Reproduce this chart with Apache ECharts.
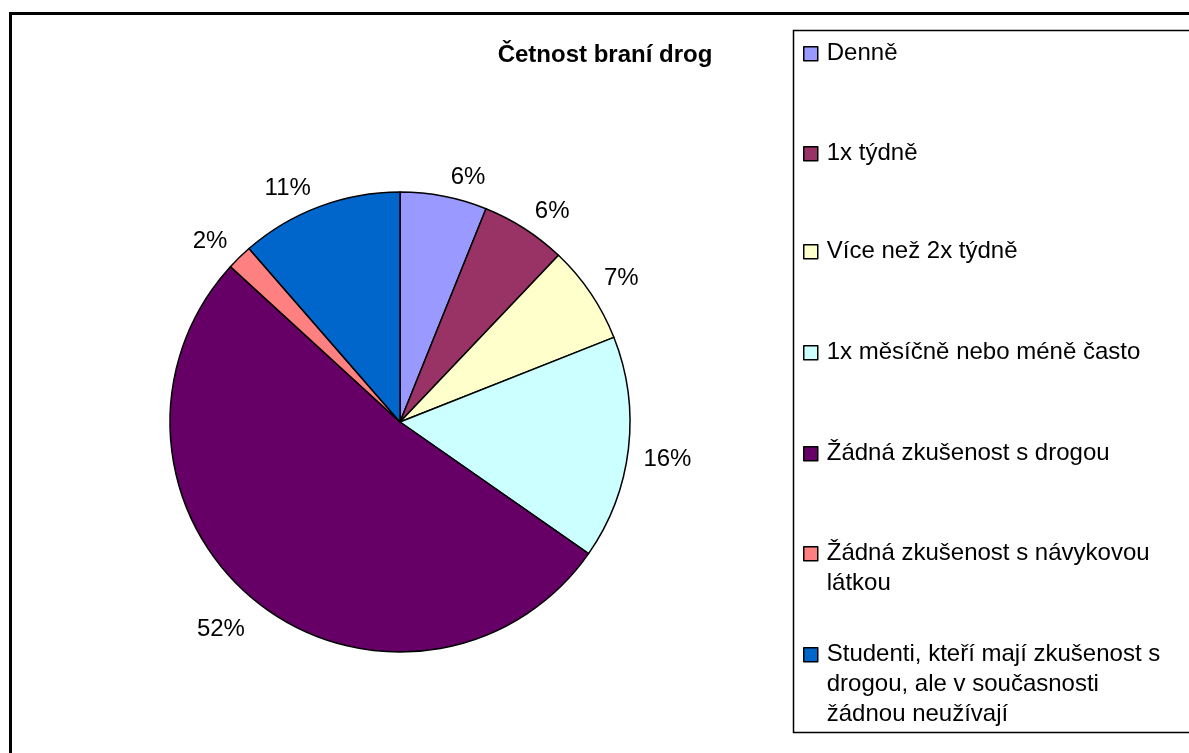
<!DOCTYPE html>
<html>
<head>
<meta charset="utf-8">
<script src="https://cdn.jsdelivr.net/npm/echarts@6/dist/echarts.min.js"></script>
<style>
html,body{margin:0;padding:0;background:#fff;}
#chart{width:1189px;height:753px;}
</style>
</head>
<body>
<div id="chart"></div>
<script>
// data
var categories = ['Denně', '1x týdně', 'Více než 2x týdně', '1x měsíčně nebo méně často',
  'Žádná zkušenost s drogou', 'Žádná zkušenost s návykovou látkou',
  'Studenti, kteří mají zkušenost s drogou, ale v současnosti žádnou neužívají'];
var legendText = ['Denně', '1x týdně', 'Více než 2x týdně', '1x měsíčně nebo méně často',
  'Žádná zkušenost s drogou', 'Žádná zkušenost s návykovou\nlátkou',
  'Studenti, kteří mají zkušenost s\ndrogou, ale v současnosti\nžádnou neužívají'];
var values = [6.1, 6.0, 6.9, 15.7, 52.1, 1.8, 11.4];
var colors = ['#9999FF', '#993366', '#FFFFCC', '#CCFFFF', '#660066', '#FF8080', '#0066CC'];

var font = "'Liberation Sans', Arial, sans-serif";
var lineH = 30;
var cx = 400, cy = 422;
// first-line centre of each legend entry
var markerY = [53, 153, 251, 352, 453, 553, 654];

// icon box as tall as the text block, square drawn on the first line
function iconFor(n) {
  var h = n * lineH, t = lineH / 2 - 7;
  return 'path://M0,0M14,' + h + 'M0,' + t + 'L14,' + t + 'L14,' + (t + 14) + 'L0,' + (t + 14) + 'Z';
}

var legends = categories.map(function (name, i) {
  var n = legendText[i].split('\n').length;
  return {
    data: [name],
    orient: 'vertical',
    left: 803,
    top: markerY[i] - lineH / 2,
    padding: 0,
    icon: iconFor(n),
    itemWidth: 14,
    itemHeight: n * lineH,
    selectedMode: false,
    itemStyle: {borderColor: '#000', borderWidth: 1.5},
    formatter: function () { return legendText[i]; },
    textStyle: {fontFamily: font, fontSize: 24, color: '#000', lineHeight: lineH, padding: [0, 0, 0, 4]}
  };
});

var chart = echarts.init(document.getElementById('chart'));
chart.setOption({
  backgroundColor: '#fff',
  animation: false,
  color: colors,
  title: {
    text: 'Četnost braní drog',
    left: 600,
    top: 38,
    textAlign: 'center',
    textStyle: {fontFamily: font, fontSize: 24, fontWeight: 'bold', color: '#000'}
  },
  legend: legends,
  graphic: [
    {type: 'rect', shape: {x: 10.5, y: 13.5, width: 1200, height: 800},
     style: {fill: 'none', stroke: '#000', lineWidth: 3}, silent: true, z: -1},
    {type: 'rect', shape: {x: 793.5, y: 30.5, width: 420, height: 702},
     style: {fill: 'none', stroke: '#000', lineWidth: 1.5}, silent: true, z: -1}
  ],
  series: [{
    type: 'pie',
    center: [cx, cy],
    radius: 230,
    startAngle: 90,
    clockwise: true,
    avoidLabelOverlap: false,
    itemStyle: {borderColor: '#000', borderWidth: 1.5},
    label: {
      show: true,
      position: 'outside',
      fontFamily: font,
      fontSize: 24,
      color: '#000',
      formatter: function (p) { return Math.round(p.percent) + '%'; }
    },
    labelLine: {show: false, length: 10, length2: 0},
    labelLayout: function (p) {
      var r = p.labelRect;
      var dx = r.x + r.width / 2 - cx, dy = r.y + r.height / 2 - cy;
      var ny = dy / Math.sqrt(dx * dx + dy * dy);
      return {dy: ny < 0 ? -9 : 8 + 17 * ny};
    },
    emphasis: {disabled: true},
    data: categories.map(function (c, i) { return {name: c, value: values[i]}; })
  }]
});
</script>
</body>
</html>
